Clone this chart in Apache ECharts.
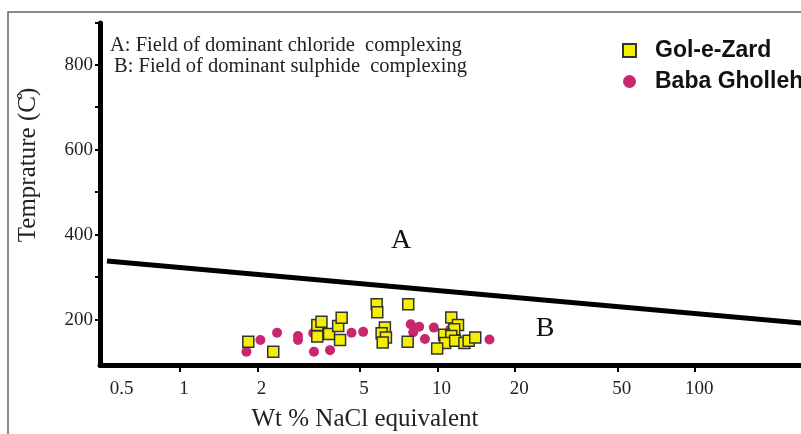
<!DOCTYPE html>
<html>
<head>
<meta charset="utf-8">
<script src="https://cdn.jsdelivr.net/npm/echarts@6/dist/echarts.min.js"></script>
<style>html,body{margin:0;padding:0;background:#fff;}#c{width:801px;height:434px;}</style>
</head>
<body>
<div id="c"></div>
<script>
// ---- data (Wt % NaCl equivalent, temperature °C) ----
const golX = [1.84, 2.30, 3.41, 3.54, 3.41, 3.79, 4.11, 4.24, 4.18, 5.80, 5.83, 7.69, 6.24, 6.06, 6.30, 6.12, 7.65, 11.3, 12.0, 11.6, 10.6, 11.3, 10.7, 11.7, 9.96, 12.7, 13.2, 14.0];
const golY = [148, 124, 187, 195, 160, 166, 185, 204, 152, 236, 217, 236, 181, 168, 158, 146, 148, 205, 187, 177, 164, 161, 145, 150, 132, 145, 150, 158];
const babaX = [1.81, 2.05, 2.38, 2.87, 2.87, 3.29, 3.31, 3.82, 4.63, 5.14, 7.86, 8.48, 8.04, 9.67, 8.93, 11.2, 15.9];
const babaY = [124, 152, 169, 161, 152, 168, 124, 128, 169, 171, 189, 183, 170, 181, 154, 177, 153];
const boundaryX = [0.52, 258];
const boundaryY = [338, 192];
const xTickValues = [1, 2, 5, 10, 20, 50, 100];
const xLabelValues = [0.5, 1, 2, 5, 10, 20, 50, 100];
const yLabelValues = [200, 400, 600, 800];
const yTickValues = [200, 300, 400, 500, 600, 700, 800, 898];
const seriesNames = ['Gol-e-Zard', 'Baba Gholleh'];

const lg = v => Math.log10(v);
const toPts = (xs, ys) => xs.map((x, i) => [lg(x), ys[i]]);

const serif = '"Liberation Serif", "Times New Roman", serif';
const sans = '"Liberation Sans", Arial, sans-serif';

const chart = echarts.init(document.getElementById('c'), null, {renderer: 'canvas'});
chart.setOption({
  animation: false,
  backgroundColor: '#fff',
  grid: {left: 100, right: 0, top: 23, bottom: 69, containLabel: false},
  legend: {
    orient: 'vertical', left: 617, top: 34,
    itemWidth: 13, itemHeight: 13, itemGap: 8,
    textStyle: {fontFamily: sans, fontWeight: 'bold', fontSize: 23, color: '#111', padding: [0, 0, 0, 14]},
    data: seriesNames
  },
  xAxis: {
    type: 'value', min: -0.311, max: 2.411,
    splitLine: {show: false},
    axisLine: {onZero: false, lineStyle: {color: '#000', width: 5}},
    axisTick: {show: true, customValues: xTickValues.map(lg), length: 7, lineStyle: {color: '#000', width: 2}},
    axisLabel: {
      customValues: xLabelValues.map(lg), margin: 15,
      formatter: v => {
        const r = Math.round(Math.pow(10, v) * 10) / 10;
        return r === 0.5 ? '{s|0.5}' : '{n|' + r + '}';
      },
      rich: {
        s: {fontFamily: serif, fontSize: 19, color: '#222', padding: [0, 0, 0, 38]},
        n: {fontFamily: serif, fontSize: 19, color: '#222', padding: [0, 0, 0, 8]}
      }
    }
  },
  yAxis: {
    type: 'value', min: 93, max: 898,
    splitLine: {show: false},
    axisLine: {onZero: false, lineStyle: {color: '#000', width: 5}},
    axisTick: {show: true, customValues: yTickValues, length: 5, lineStyle: {color: '#000', width: 2}},
    axisLabel: {
      customValues: yLabelValues, margin: 7,
      fontFamily: serif, fontSize: 19, color: '#222', padding: [3, 0, 0, 0]
    }
  },
  series: [
    {
      name: 'boundary', type: 'line', silent: true, symbol: 'none',
      lineStyle: {color: '#000', width: 5},
      data: toPts(boundaryX, boundaryY), z: 2
    },
    {
      name: seriesNames[0], type: 'scatter', symbol: 'rect', symbolSize: 11,
      itemStyle: {color: '#f4ee00', borderColor: '#333', borderWidth: 1.5, opacity: 1},
      data: toPts(golX, golY), z: 4
    },
    {
      name: seriesNames[1], type: 'scatter', symbol: 'circle', symbolSize: 10,
      itemStyle: {color: '#c8276f', opacity: 1},
      data: toPts(babaX, babaY), z: 3
    }
  ],
  graphic: [
    {type: 'polyline', shape: {points: [[8, 434], [8, 12], [801, 12]]}, style: {stroke: '#666', lineWidth: 1.5, fill: null}},
    {type: 'text', left: 110, top: 35, style: {text: 'A: Field of dominant chloride  complexing', font: '20.5px ' + serif, fill: '#222'}},
    {type: 'text', left: 114, top: 56, style: {text: 'B: Field of dominant sulphide  complexing', font: '20.5px ' + serif, fill: '#222'}},
    {type: 'text', x: 401, y: 241, style: {text: 'A', font: '28px ' + serif, fill: '#111', align: 'center', verticalAlign: 'middle'}},
    {type: 'text', x: 545, y: 329, style: {text: 'B', font: '28px ' + serif, fill: '#111', align: 'center', verticalAlign: 'middle'}},
    {type: 'text', x: 365, y: 419, style: {text: 'Wt % NaCl equivalent', font: '25px ' + serif, fill: '#222', align: 'center', verticalAlign: 'middle'}},
    {type: 'text', x: 28, y: 165, rotation: Math.PI / 2, style: {text: 'Temprature (C\u030A)', font: '25px ' + serif, fill: '#222', align: 'center', verticalAlign: 'middle'}}
  ]
});
</script>
</body>
</html>
